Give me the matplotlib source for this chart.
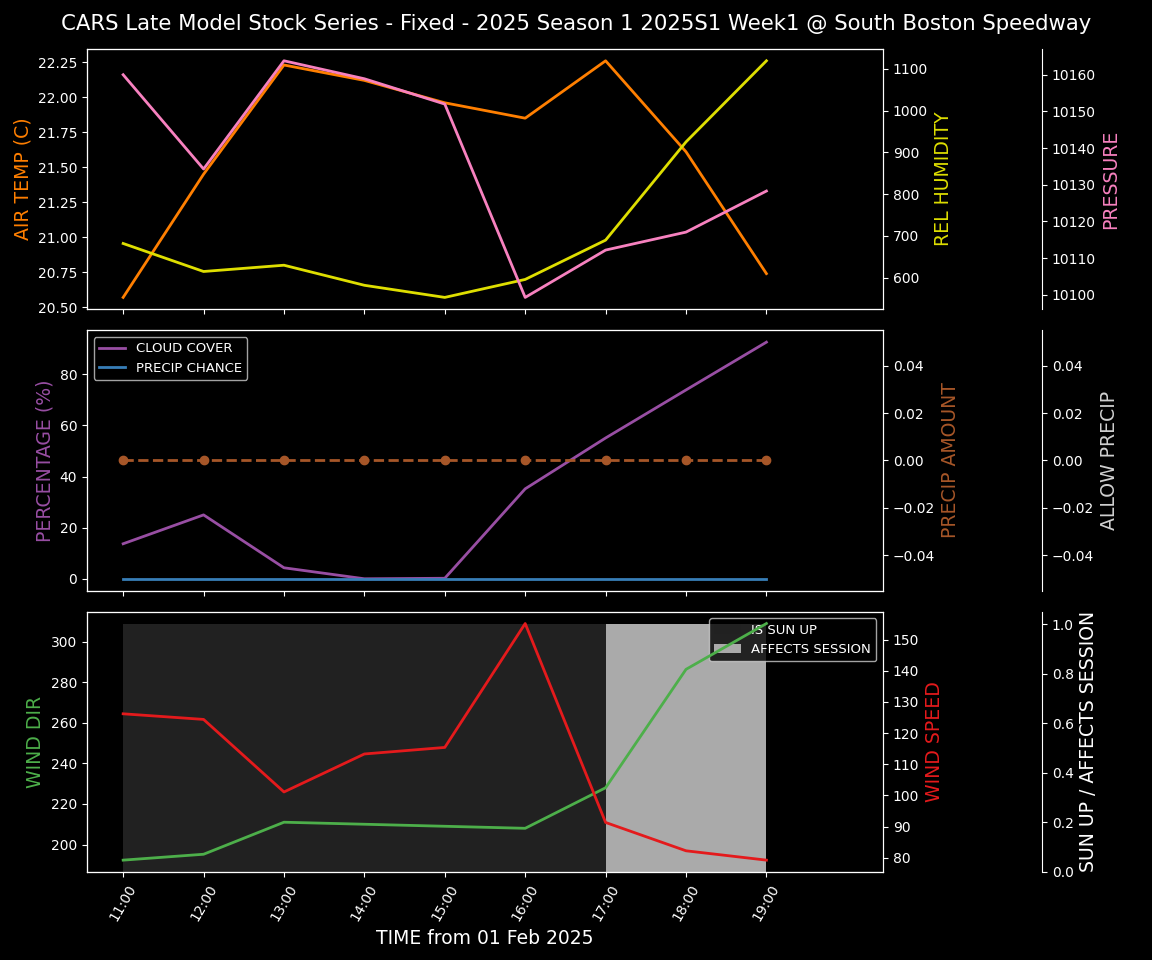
import matplotlib
matplotlib.use("Agg")
import matplotlib.pyplot as plt
import matplotlib.dates as mdates
import pandas as pd

plt.style.use('dark_background')
plt.rcParams['font.family'] = ['DejaVu Sans']

# ---- data ----
hours = ["11:00", "12:00", "13:00", "14:00", "15:00", "16:00", "17:00", "18:00", "19:00"]
air_temp = [20.57, 21.45, 22.23, 22.12, 21.96, 21.85, 22.26, 21.61, 20.74]
rel_humidity = [682, 615, 630, 582, 553, 596, 690, 925, 1119]
pressure = [10160.0, 10134.3, 10163.8, 10158.9, 10152.0, 10099.3, 10112.2, 10117.1, 10128.3]
cloud_cover = [13.7, 25.0, 4.3, 0.0, 0.2, 35.2, 55.1, 73.9, 92.6]
precip_chance = [0, 0, 0, 0, 0, 0, 0, 0, 0]
precip_amount = [0, 0, 0, 0, 0, 0, 0, 0, 0]
allow_precip = [0, 0, 0, 0, 0, 0, 0, 0, 0]
wind_dir = [192.3, 195.2, 211.0, 210.0, 209.0, 208.0, 228.0, 286.4, 309.0]
wind_speed = [126.2, 124.4, 101.1, 113.3, 115.4, 155.2, 91.3, 82.2, 79.2]
is_sun_up = [1, 1, 1, 1, 1, 1, 0, 0, 0]
affects_session = [0, 0, 0, 0, 0, 0, 1, 1, 1]

times = pd.to_datetime(["2025-02-01 " + h for h in hours])

C_TEMP = '#ff7f00'
C_HUM = '#dede00'
C_PRES = '#f781bf'
C_CLOUD = '#984ea3'
C_PCH = '#377eb8'
C_PAMT = '#a65628'
C_ALLOW = '#d0d0d0'
C_WDIR = '#4daf4a'
C_WSPD = '#e41a1c'

fig, (ax1, ax2, ax3) = plt.subplots(3, 1, figsize=(11.52, 9.6), dpi=100, sharex=True)
fig.subplots_adjust(left=0.0755, right=0.7665, top=0.949, bottom=0.0917, hspace=0.081)

LW = 2
LFS = 13.6
LEGFS = 9.5

# ---- top panel ----
ax1.plot(times, air_temp, color=C_TEMP, lw=LW)
ax1.set_ylabel('AIR TEMP (C)', color=C_TEMP, fontsize=LFS)
ax1b = ax1.twinx()
ax1b.plot(times, rel_humidity, color=C_HUM, lw=LW)
ax1b.set_ylabel('REL HUMIDITY', color=C_HUM, fontsize=LFS)
ax1c = ax1.twinx()
ax1c.spines['right'].set_position(('axes', 1.2))
ax1c.plot(times, pressure, color=C_PRES, lw=LW)
ax1c.set_ylabel('PRESSURE', color=C_PRES, fontsize=LFS)

# ---- middle panel ----
ax2.plot(times, cloud_cover, color=C_CLOUD, lw=LW, label='CLOUD COVER')
ax2.plot(times, precip_chance, color=C_PCH, lw=LW, label='PRECIP CHANCE')
ax2.set_ylabel('PERCENTAGE (%)', color=C_CLOUD, fontsize=LFS)
ax2.legend(loc='upper left', fontsize=LEGFS)
ax2b = ax2.twinx()
ax2b.plot(times, precip_amount, color=C_PAMT, lw=LW, ls='--', marker='o')
ax2b.set_ylabel('PRECIP AMOUNT', color=C_PAMT, fontsize=LFS)
ax2c = ax2.twinx()
ax2c.spines['right'].set_position(('axes', 1.2))
ax2c.plot(times, allow_precip, lw=0, alpha=0)
ax2c.set_ylim(-0.055, 0.055)
ax2c.set_ylabel('ALLOW PRECIP', color=C_ALLOW, fontsize=LFS)

# ---- bottom panel ----
ax3s = ax3.twinx()
ax3s.spines['right'].set_position(('axes', 1.2))
ax3s.fill_between(times, 0, is_sun_up, step='post', color='#212121', lw=0, label='IS SUN UP')
ax3s.fill_between(times, 0, affects_session, step='post', color='#aaaaaa', lw=0, label='AFFECTS SESSION')
ax3s.set_ylim(0, 1.05)
ax3s.set_ylabel('SUN UP / AFFECTS SESSION', color='white', fontsize=LFS)
ax3s.legend(loc='upper right', fontsize=LEGFS)
ax3s.set_zorder(0)

ax3.set_zorder(1)
ax3.patch.set_visible(False)
ax3.plot(times, wind_dir, color=C_WDIR, lw=LW)
ax3.set_ylabel('WIND DIR', color=C_WDIR, fontsize=LFS)
ax3b = ax3.twinx()
ax3b.set_zorder(2)
ax3b.patch.set_visible(False)
ax3b.plot(times, wind_speed, color=C_WSPD, lw=LW)
ax3b.set_ylabel('WIND SPEED', color=C_WSPD, fontsize=LFS)

# ---- x axis ----
ax3.set_xlim(times[0] - pd.Timedelta(minutes=27), times[-1] + pd.Timedelta(minutes=87))
ax3.set_xticks(times)
ax3.xaxis.set_major_formatter(mdates.DateFormatter('%H:%M'))
for lab in ax3.get_xticklabels():
    lab.set_rotation(60)
ax3.set_xlabel('TIME from 01 Feb 2025', fontsize=13.5)

fig.suptitle('CARS Late Model Stock Series - Fixed - 2025 Season 1 2025S1 Week1 @ South Boston Speedway',
             fontsize=15.35, y=0.985)

fig.savefig('out.png', dpi=100, facecolor='black')
